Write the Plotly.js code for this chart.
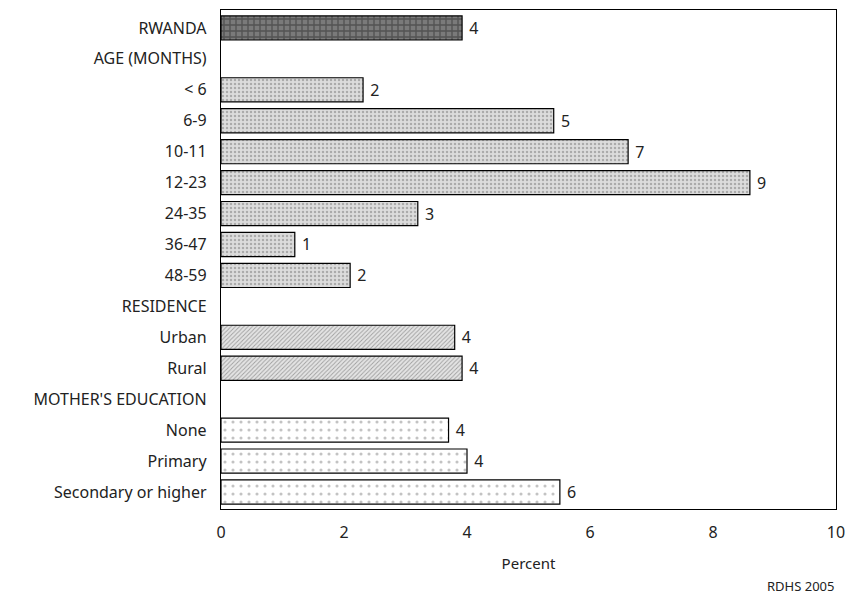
<!DOCTYPE html>
<html>
<head>
<meta charset="utf-8">
<script src="https://cdn.plot.ly/plotly-3.0.1.min.js"></script>
<style>html,body{margin:0;padding:0;background:#fff;}#chart{width:848px;height:598px;}</style>
</head>
<body>
<div id="chart"></div>
<script>
const categories = ["RWANDA","AGE (MONTHS)","< 6","6-9","10-11","12-23","24-35","36-47","48-59","RESIDENCE","Urban","Rural","MOTHER'S EDUCATION","None","Primary","Secondary or higher"];
const values = [3.92, null, 2.31, 5.41, 6.62, 8.6, 3.2, 1.2, 2.1, null, 3.8, 3.92, null, 3.7, 4.0, 5.51];
const valueLabels = ["4", "", "2", "5", "7", "9", "3", "1", "2", "", "4", "4", "", "4", "4", "6"];
const groups = ["total","hdr","age","age","age","age","age","age","age","hdr","res","res","hdr","edu","edu","edu"];

const style = {
  total: {shape: "+", bg: "#7a7a7a", fg: "#2a2a2a", size: 6, sol: 0.4},
  age:   {shape: ".", bg: "#dcdcdc", fg: "#7a7a7a", size: 4, sol: 0.3},
  res:   {shape: "/", bg: "#e4e4e4", fg: "#5a5a5a", size: 3, sol: 0.3},
  edu:   {shape: ".", bg: "#ffffff", fg: "#888888", size: 8, sol: 0.12},
  hdr:   {shape: "", bg: "#ffffff", fg: "#ffffff", size: 4, sol: 0.3}
};

const FONT = "'Noto Sans', 'DejaVu Sans', sans-serif";

const traces = Object.keys(style).filter(g => g !== "hdr").map(g => ({
  type: "bar",
  orientation: "h",
  y: categories,
  x: values.map((v, i) => groups[i] === g ? v : null),
  width: 0.78,
  text: valueLabels.map((t, i) => groups[i] === g && t ? "\u00a0" + t : ""),
  textposition: "outside",
  cliponaxis: false,
  textfont: {family: FONT, size: 16, color: "#222"},
  marker: {
    color: style[g].bg,
    line: {color: "#000", width: 1.2},
    pattern: {
      shape: style[g].shape,
      fgcolor: style[g].fg,
      size: style[g].size,
      solidity: style[g].sol,
      fillmode: "overlay"
    }
  },
  hoverinfo: "skip"
}));

const layout = {
  width: 848,
  height: 598,
  margin: {l: 221, r: 12, t: 10, b: 89},
  paper_bgcolor: "#fff",
  plot_bgcolor: "#fff",
  showlegend: false,
  barmode: "overlay",
  font: {family: FONT, size: 16, color: "#222"},
  xaxis: {
    range: [0, 10],
    tickvals: [0, 2, 4, 6, 8, 10],
    showgrid: false,
    zeroline: false,
    showline: true,
    linecolor: "#000",
    linewidth: 1.2,
    mirror: true,
    ticks: "",
    ticklabelstandoff: 9,
    title: {text: "Percent", standoff: 16, font: {size: 15}},
    fixedrange: true
  },
  yaxis: {
    type: "category",
    autorange: false,
    range: [15.55, -0.58],
    showgrid: false,
    zeroline: false,
    showline: true,
    linecolor: "#000",
    linewidth: 1.2,
    mirror: true,
    ticks: "",
    ticklabelstandoff: 10,
    fixedrange: true
  },
  annotations: [{
    text: "RDHS 2005",
    xref: "paper", yref: "paper",
    x: 1, y: 0, xanchor: "right", yanchor: "top",
    yshift: -66,
    showarrow: false,
    font: {size: 13, color: "#222"}
  }]
};

Plotly.newPlot("chart", traces, layout, {displayModeBar: false, staticPlot: true});
</script>
</body>
</html>
